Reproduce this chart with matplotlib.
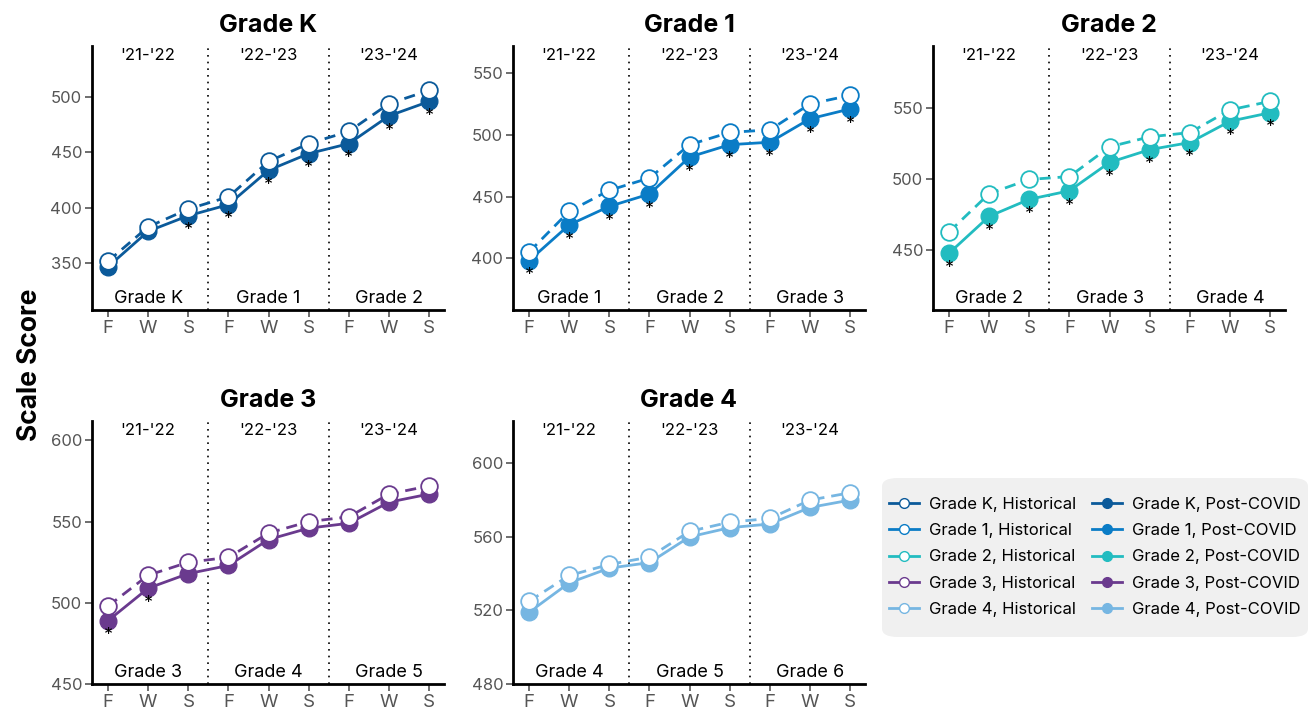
import matplotlib.pyplot as plt
from matplotlib.lines import Line2D
from matplotlib.patches import FancyBboxPatch
import numpy as np

plt.rcParams['font.family'] = ['Inter', 'DejaVu Sans']

# Data
seasons = ["F", "W", "S", "F", "W", "S", "F", "W", "S"]
years = ["'21-'22", "'22-'23", "'23-'24"]
cohorts = ["Grade K", "Grade 1", "Grade 2", "Grade 3", "Grade 4"]
grade_seq = ["Grade K", "Grade 1", "Grade 2", "Grade 3", "Grade 4", "Grade 5", "Grade 6"]

hist_k = [352, 383, 399, 410, 442, 458, 469, 494, 506]
post_k = [347, 379, 393, 403, 434, 449, 458, 483, 496]
hist_1 = [405, 438, 455, 465, 492, 502, 504, 525, 532]
post_1 = [398, 427, 442, 452, 482, 492, 494, 513, 521]
hist_2 = [463, 490, 500, 502, 523, 530, 533, 549, 555]
post_2 = [448, 474, 486, 492, 512, 521, 526, 541, 547]
hist_3 = [498, 517, 525, 528, 543, 550, 553, 567, 572]
post_3 = [489, 509, 518, 523, 539, 546, 549, 562, 567]
hist_4 = [525, 539, 545, 549, 563, 568, 570, 580, 584]
post_4 = [519, 535, 543, 546, 560, 565, 567, 576, 580]

# significant differences (asterisk under the post-covid point)
sig_k = [0, 0, 1, 1, 1, 1, 1, 1, 1]
sig_1 = [1, 1, 1, 1, 1, 1, 1, 1, 1]
sig_2 = [1, 1, 1, 1, 1, 1, 1, 1, 1]
sig_3 = [1, 1, 0, 0, 0, 0, 0, 0, 0]
sig_4 = [0, 0, 0, 0, 0, 0, 0, 0, 0]

hist_all = [hist_k, hist_1, hist_2, hist_3, hist_4]
post_all = [post_k, post_1, post_2, post_3, post_4]
sig_all = [sig_k, sig_1, sig_2, sig_3, sig_4]
colors = ["#0b5a9a", "#0a7cc6", "#22bcc0", "#6a3a8e", "#76b6e2"]
ylims = [(308, 546), (358, 572), (408, 594), (450, 612), (480, 623)]
yticks = [[350, 400, 450, 500], [400, 450, 500, 550], [450, 500, 550],
          [450, 500, 550, 600], [480, 520, 560, 600]]

W, H = 1311, 713
fig = plt.figure(figsize=(W / 100, H / 100), dpi=100)

# axes boxes in pixels: left, top, right, bottom
boxes = [(92, 46, 444, 310), (513, 46, 865, 310), (933, 46, 1285, 310),
         (92, 421, 444, 684), (513, 421, 865, 684)]

x = np.arange(9)
for i in range(5):
    l, t, r, b = boxes[i]
    ax = fig.add_axes([l / W, 1 - b / H, (r - l) / W, (b - t) / H])
    c = colors[i]
    ax.plot(x, post_all[i], '-', color=c, lw=2, marker='o', ms=12,
            mfc=c, mec=c, zorder=3)
    ax.plot(x, hist_all[i], '--', color=c, lw=2, dashes=(4, 2.5), marker='o', ms=12,
            mfc='white', mec=c, mew=1.3, zorder=4)
    for j in range(9):
        if sig_all[i][j]:
            ax.annotate("*", (x[j], post_all[i][j]), xytext=(0, -11),
                        textcoords='offset points', ha='center', va='center',
                        fontsize=13, color='black', zorder=5)
    ax.set_xlim(-0.4, 8.37)
    ax.set_ylim(*ylims[i])
    for xv in [2.5, 5.5]:
        ax.axvline(xv, color='black', ls=(0, (1, 3)), lw=1.2, zorder=1)
    for k in range(3):
        ax.text(1 + 3 * k, 0.965, years[k], transform=ax.get_xaxis_transform(),
                ha='center', va='center', fontsize=12)
        ax.text(1 + 3 * k, 0.045, grade_seq[i + k], transform=ax.get_xaxis_transform(),
                ha='center', va='center', fontsize=13)
    ax.set_xticks(x)
    ax.set_xticklabels(seasons)
    ax.set_yticks(yticks[i])
    ax.tick_params(axis='x', labelsize=13.5, colors='#555555', length=5, width=1.2,
                   pad=2)
    ax.tick_params(axis='y', labelsize=12, colors='#555555', length=5, width=1.2,
                   pad=2)
    for s in ['top', 'right']:
        ax.spines[s].set_visible(False)
    for s in ['left', 'bottom']:
        ax.spines[s].set_linewidth(2)
    ax.set_title(cohorts[i], fontsize=18, fontweight='bold', pad=10)

fig.text(30 / W, 1 - 365 / H, "Scale Score", rotation=90, ha='center', va='center',
         fontsize=19, fontweight='bold')

# legend
handles = []
labels = []
for i in range(5):
    handles.append(Line2D([], [], color=colors[i], lw=2, marker='o', ms=7,
                          mfc='white', mec=colors[i]))
    labels.append(cohorts[i] + ", Historical")
for i in range(5):
    handles.append(Line2D([], [], color=colors[i], lw=2, marker='o', ms=7,
                          mfc=colors[i], mec=colors[i]))
    labels.append(cohorts[i] + ", Post-COVID")

bg = FancyBboxPatch((882 / W, 1 - 637 / H), (1308 - 882) / W, (637 - 478) / H,
                    boxstyle="round,pad=0,rounding_size=0.012", transform=fig.transFigure,
                    facecolor='#f0f0f0', edgecolor='none', zorder=0)
fig.patches.append(bg)
fig.legend(handles, labels, ncol=2, loc='center', bbox_to_anchor=(1095 / W, 1 - 557 / H),
           frameon=False, fontsize=12, handlelength=1.8, handletextpad=0.6,
           columnspacing=1.0, labelspacing=0.68)

fig.savefig("out.png", dpi=100)
